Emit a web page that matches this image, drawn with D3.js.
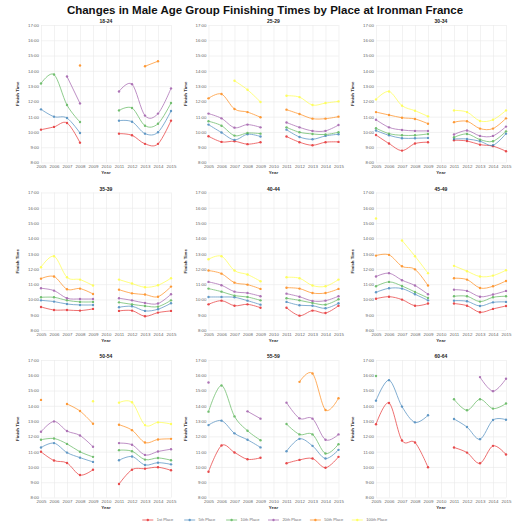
<!DOCTYPE html>
<html>
<head>
<meta charset="utf-8">
<script src="https://d3js.org/d3.v7.min.js"></script>
<style>
body { margin: 0; background: #fff; }
svg { font-family: "Liberation Sans", Arial, sans-serif; }
.grid line { stroke: #e9e9e9; stroke-width: 0.6; }
.grid path { display: none; }
.grid text { fill: #666; font-size: 4.4px; }
.series path { fill: none; stroke-width: 0.8; }
</style>
</head>
<body>
<script>
//////////////////
// Data
//////////////////

// Finish times are in decimal hours (10.5 = 10:30), null = no finisher
var years = [2005, 2006, 2007, 2008, 2009, 2010, 2011, 2012, 2013, 2014, 2015];
var places = ["1st Place", "5th Place", "10th Place", "20th Place", "50th Place", "100th Place"];
var colors = ["#e41a1c", "#377eb8", "#4daf4a", "#984ea3", "#ff7f00", "#ffff33"];
var ageGroups = ["18-24", "25-29", "30-34", "35-39", "40-44", "45-49", "50-54", "55-59", "60-64"];
var hourTicks = [8, 9, 10, 11, 12, 13, 14, 15, 16, 17];

var n = null;

var t18_24 = [
    [10.15, 10.33, 10.59, 9.30, n, n, 9.89, 9.78, 9.22, 9.22, 10.74],
    [11.48, 11.00, 10.91, 9.93, n, n, 10.74, 10.67, 9.89, 9.98, 11.37],
    [13.17, 13.76, 11.76, 10.65, n, n, 11.41, 11.57, 10.41, 10.54, 11.89],
    [n, n, 13.63, 11.87, n, n, 12.65, 13.13, 11.07, 11.20, 12.85],
    [n, n, n, 14.35, n, n, n, n, 14.30, 14.63, n],
    [n, n, n, n, n, n, n, n, n, n, n]
];
var t25_29 = [
    [9.72, 9.35, 9.39, 9.20, 9.33, n, 9.70, 9.33, 9.13, 9.33, 9.35],
    [10.48, 9.96, 9.48, 9.85, 9.70, n, 10.15, 9.67, 9.52, 9.74, 9.85],
    [10.70, 10.41, 9.76, 9.93, 9.89, n, 10.30, 9.98, 9.87, 9.83, 9.98],
    [11.20, 10.89, 10.28, 10.48, 10.30, n, 10.62, 10.30, 10.07, 10.07, 10.45],
    [12.20, 12.48, 11.50, 11.30, 10.96, n, 11.46, 11.17, 10.87, 10.87, 11.00],
    [n, n, 13.35, 12.76, 11.96, n, 12.37, 12.28, 11.76, 11.89, 12.00]
];
var t30_34 = [
    [9.80, 9.24, 8.78, 9.24, 9.33, n, 9.46, 9.41, 9.17, 9.07, 8.74],
    [10.09, 9.78, 9.59, 9.59, 9.61, n, 9.54, 9.54, 9.39, 9.13, 9.89],
    [10.24, 9.89, 9.78, 9.78, 9.87, n, 9.65, 9.87, 9.50, 9.39, 10.04],
    [10.80, 10.30, 10.13, 10.07, 10.07, n, 9.83, 10.09, 9.74, 9.74, 10.35],
    [11.30, 11.11, 10.93, 10.85, 10.54, n, 10.64, 10.70, 10.22, 10.22, 10.89],
    [12.13, 12.65, 11.72, 11.39, 11.02, n, 11.41, 11.30, 10.72, 10.80, 11.41]
];
var t35_39 = [
    [9.51, 9.31, 9.31, 9.27, 9.38, n, 9.25, 9.27, 8.90, 9.14, 9.25],
    [9.94, 9.86, 9.70, 9.64, 9.64, n, 9.49, 9.55, 9.25, 9.36, 9.75],
    [10.14, 10.14, 9.94, 9.84, 9.84, n, 9.81, 9.68, 9.57, 9.53, 9.94],
    [10.73, 10.58, 10.08, 10.03, 10.03, n, 10.08, 9.94, 9.77, 9.73, 10.34],
    [11.36, 11.50, 10.67, 10.71, 10.36, n, 10.64, 10.40, 10.32, 10.18, 10.84],
    [12.11, 12.83, 11.45, 11.30, 10.91, n, 11.30, 11.04, 10.80, 10.93, 11.39]
];
var t40_44 = [
    [9.68, 9.92, 9.59, 9.68, 9.46, n, 9.46, 8.94, 9.27, 9.11, 9.59],
    [10.16, 10.16, 10.14, 9.92, 9.66, n, 9.84, 9.62, 9.59, 9.42, 9.75],
    [10.71, 10.51, 10.25, 10.16, 9.94, n, 10.08, 9.94, 9.77, 9.66, 10.01],
    [11.15, 10.93, 10.51, 10.42, 10.21, n, 10.38, 10.18, 9.90, 9.92, 10.21],
    [11.89, 11.69, 11.10, 10.97, 10.69, n, 10.77, 10.71, 10.42, 10.42, 10.69],
    [12.63, 12.83, 11.89, 11.63, 11.19, n, 11.45, 11.39, 10.91, 10.86, 11.30]
];
var t45_49 = [
    [10.05, 10.18, 9.99, 9.59, 9.73, n, 9.73, 9.59, 9.16, 9.38, 9.57],
    [10.47, 10.73, 10.71, 10.34, 9.94, n, 9.92, 9.88, 9.57, 9.81, 9.84],
    [10.86, 11.15, 10.88, 10.49, 10.10, n, 10.21, 10.21, 9.86, 10.14, 10.21],
    [11.50, 11.72, 11.26, 10.91, 10.34, n, 10.64, 10.56, 10.18, 10.32, 10.56],
    [12.87, 12.92, 12.17, 11.97, 10.91, n, 11.39, 11.30, 10.75, 10.86, 11.21],
    [15.30, n, 13.86, 12.83, 11.72, n, 12.20, 11.85, 11.50, 11.56, 11.91]
];
var t50_54 = [
    [10.99, 10.42, 10.26, 9.47, 9.82, n, 8.88, 9.82, 9.89, 9.98, 9.78],
    [11.27, 11.56, 10.94, 10.61, 10.33, n, 10.44, 10.68, 10.13, 10.28, 10.17],
    [11.78, 11.86, 11.51, 10.99, 10.66, n, 11.10, 11.03, 10.48, 10.59, 10.44],
    [12.30, 12.98, 12.35, 12.06, 11.32, n, 11.56, 11.45, 10.79, 11.01, 11.16],
    [14.39, n, 14.12, 13.66, 12.83, n, 12.76, 12.41, 11.60, 11.80, 11.84],
    [n, n, n, n, 14.30, n, 14.21, 14.23, 12.74, 12.92, 12.81]
];
var t55_59 = [
    [9.69, 11.40, 10.95, 10.50, 10.60, n, 10.24, 10.46, 10.55, 9.95, 10.66],
    [12.74, 13.03, 12.20, 11.78, 11.28, n, 11.03, 11.84, 11.38, 10.55, 11.12],
    [13.62, 15.33, 13.31, 12.37, 11.75, n, 12.81, 12.13, 12.13, 10.88, 11.49],
    [15.53, n, n, 13.64, 13.16, n, 14.21, 13.18, 13.16, 11.78, 12.13],
    [n, n, n, n, n, n, n, 15.57, 16.12, 13.73, 14.50],
    [n, n, n, n, n, n, n, n, n, n, n]
];
var t60_64 = [
    [12.79, 14.19, 11.73, 11.60, 9.98, n, 11.27, 10.94, 10.24, 11.38, 10.81],
    [14.34, 15.68, 13.95, 12.92, 13.38, n, 13.14, 12.61, 11.82, 13.07, 13.09],
    [15.95, n, n, n, n, n, 14.43, 13.71, 14.43, 13.82, 14.15],
    [n, n, n, n, n, n, n, n, 15.88, 14.96, 15.77],
    [n, n, n, n, n, n, n, n, n, n, n],
    [n, n, n, n, n, n, n, n, n, n, n]
];

var groupTimes = [t18_24, t25_29, t30_34, t35_39, t40_44, t45_49, t50_54, t55_59, t60_64];

////////////////
// Make display!
////////////////

var W = 530, H = 530;

var pw = 130,        // plot width of one panel
    ph = 137.5,      // plot height of one panel
    step = 167.5,    // distance between panels
    left0 = 41,
    top0 = 25,
    cols = 3;

var svg = d3.select("body").append("svg")
    .attr("width", W)
    .attr("height", H);

svg.append("text")
    .attr("x", W / 2)
    .attr("y", 14)
    .attr("text-anchor", "middle")
    .style("font-size", "11.5px")
    .style("font-weight", "bold")
    .style("fill", "#111")
    .text("Changes in Male Age Group Finishing Times by Place at Ironman France");

var x = d3.scaleLinear().domain([2005, 2015]).range([0, pw]);
var y = d3.scaleLinear().domain([8, 17]).range([ph, 0]);

var line = d3.line()
    .defined(function(d) { return d != null; })
    .x(function(d, j) { return x(years[j]); })
    .y(function(d) { return y(d); })
    .curve(d3.curveCardinal);

ageGroups.forEach(function(name, i) {

    var g = svg.append("g")
        .attr("transform", "translate(" + (left0 + (i % cols) * step) + "," + (top0 + Math.floor(i / cols) * step) + ")");

    // grid + tick labels
    g.append("g")
        .attr("class", "grid")
        .attr("transform", "translate(0," + ph + ")")
        .call(d3.axisBottom(x).tickValues(years).tickFormat(d3.format("d")).tickSize(-ph).tickPadding(2.5));

    g.append("g")
        .attr("class", "grid")
        .call(d3.axisLeft(y).tickValues(hourTicks).tickFormat(function(h) { return h + ":00"; }).tickSize(-pw).tickPadding(2));

    // panel title and axis titles
    g.append("text")
        .attr("x", pw / 2)
        .attr("y", -1.8)
        .attr("text-anchor", "middle")
        .style("font-size", "5px")
        .style("font-weight", "bold")
        .style("fill", "#222")
        .text(name);

    g.append("text")
        .attr("transform", "translate(-22," + (ph / 2) + ") rotate(-90)")
        .attr("text-anchor", "middle")
        .style("font-size", "4.4px")
        .style("font-weight", "bold")
        .style("fill", "#333")
        .text("Finish Time");

    g.append("text")
        .attr("x", pw / 2)
        .attr("y", ph + 11.5)
        .attr("text-anchor", "middle")
        .style("font-size", "4.4px")
        .style("font-weight", "bold")
        .style("fill", "#333")
        .text("Year");

    // one line + dots per place
    groupTimes[i].forEach(function(series, k) {
        var s = g.append("g")
            .attr("class", "series")
            .style("opacity", 0.78);

        s.append("path")
            .attr("d", line(series))
            .style("stroke", colors[k]);

        s.selectAll("circle")
            .data(years.map(function(yr, j) { return {year: yr, v: series[j]}; })
                .filter(function(d) { return d.v != null; }))
          .enter().append("circle")
            .attr("cx", function(d) { return x(d.year); })
            .attr("cy", function(d) { return y(d.v); })
            .attr("r", 1.2)
            .style("fill", colors[k]);
    });
});

// Legend
var itemW = 41.9;
var legend = svg.append("g")
    .attr("transform", "translate(" + (W / 2 - itemW * places.length / 2 + 3) + ",520)");

var item = legend.selectAll("g")
    .data(places)
  .enter().append("g")
    .attr("transform", function(d, k) { return "translate(" + (k * itemW) + ",0)"; })
    .style("opacity", 0.78);

item.append("line")
    .attr("x1", 0).attr("x2", 11)
    .style("stroke", function(d, k) { return colors[k]; })
    .style("stroke-width", 0.8);

item.append("circle")
    .attr("cx", 5.5)
    .attr("r", 1.2)
    .style("fill", function(d, k) { return colors[k]; });

item.append("text")
    .attr("x", 14.4)
    .attr("dy", "0.35em")
    .style("font-size", "4px")
    .style("fill", "#444")
    .text(function(d) { return d; });

</script>
</body>
</html>
